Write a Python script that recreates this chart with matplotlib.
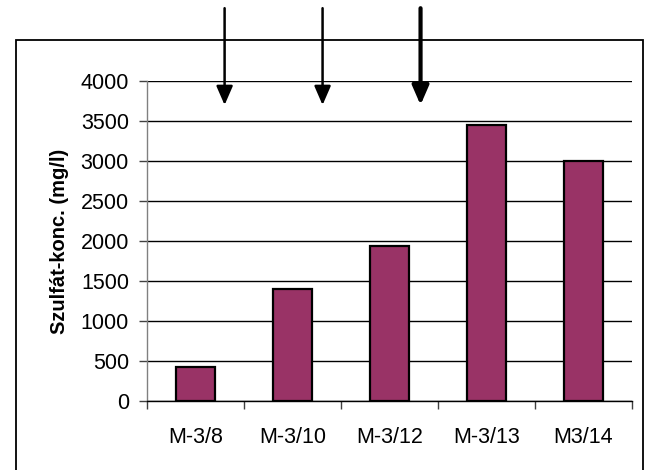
import matplotlib
matplotlib.use("Agg")
import matplotlib.pyplot as plt
from matplotlib.patches import Rectangle
import numpy as np

plt.rcParams['font.family'] = ['Liberation Sans', 'DejaVu Sans']

wells = ['M-3/8', 'M-3/10', 'M-3/12', 'M-3/13', 'M3/14']
sulfate = [425, 1400, 1940, 3450, 3000]
yticks = [0, 500, 1000, 1500, 2000, 2500, 3000, 3500, 4000]

# arrows marking events between samples (x in category units)
arrow_x = [0.30, 1.31, 2.32]
arrow_lw = [1.8, 1.8, 3.0]
arrow_top = 4910
arrow_tip = 3700

BAR_COLOR = '#993366'

fig = plt.figure(figsize=(6.48, 4.70), dpi=100)
ax = fig.add_axes([147/648, 1 - 401/470, 485/648, 320/470])

# outer chart frame
fig.patches.append(Rectangle((16/648, -0.05), 627/648, 1.05 - 40/470,
                             transform=fig.transFigure, fill=False,
                             edgecolor='black', linewidth=1.3, zorder=0))

x = np.arange(len(wells))
ax.bar(x, sulfate, width=0.41, color=BAR_COLOR, edgecolor='black',
       linewidth=1.6, zorder=3)

ax.set_ylim(0, 4000)
ax.set_xlim(-0.5, len(wells) - 0.5)
ax.set_yticks(yticks)
ax.set_yticklabels([str(v) for v in yticks])
ax.set_xticks(x)
ax.set_xticklabels(wells)
ax.set_xticks(np.arange(len(wells) + 1) - 0.5, minor=True)

ax.grid(axis='y', color='black', linewidth=1.0, zorder=0)
ax.set_axisbelow(True)

ax.tick_params(axis='x', which='major', length=0, pad=19, labelsize=15.5)
ax.tick_params(axis='x', which='minor', length=6, width=1, color='#404040')
ax.tick_params(axis='y', length=6, width=1, color='#404040', pad=7,
               labelsize=15.5)

for s in ['top', 'right']:
    ax.spines[s].set_visible(False)
ax.spines['left'].set_color('#808080')
ax.spines['left'].set_linewidth(1.0)
ax.spines['bottom'].set_color('black')
ax.spines['bottom'].set_linewidth(1.0)

ax.set_ylabel('Szulfát-konc. (mg/l)', fontsize=14.5, fontweight='bold',
              labelpad=8)

for xa, lw in zip(arrow_x, arrow_lw):
    ax.annotate('', xy=(xa, arrow_tip), xytext=(xa, arrow_top),
                xycoords='data', textcoords='data', annotation_clip=False,
                arrowprops=dict(arrowstyle='-|>,head_length=1.15,head_width=0.5',
                                mutation_scale=10, color='black', lw=lw,
                                shrinkA=0, shrinkB=0), zorder=5)

fig.savefig('out.png', dpi=100)
